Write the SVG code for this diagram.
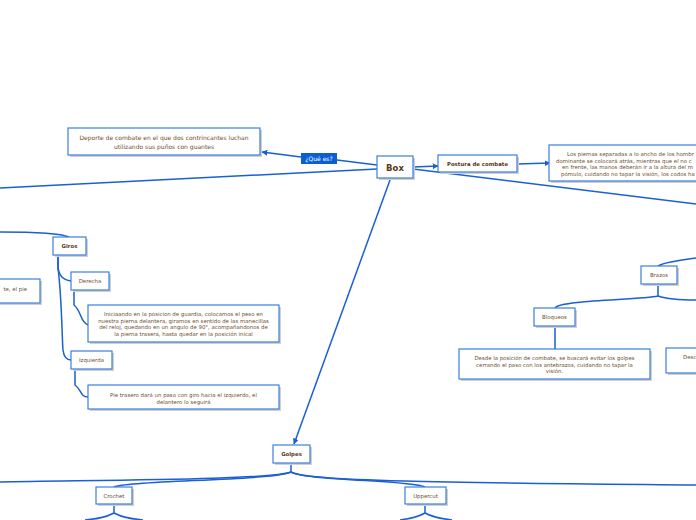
<svg xmlns="http://www.w3.org/2000/svg" width="696" height="520" viewBox="0 0 696 520">
<style>
.bx{fill:#fff;stroke:#3b7fe2;stroke-width:1.2}
.sh{fill:#d0d0d0}
.t{font-family:"DejaVu Sans",Verdana,sans-serif;font-size:5.4px;fill:#6e4e2c;text-anchor:middle}
.b{font-weight:bold;fill:#5a3814}
.c{fill:none;stroke:#1a5fd3;stroke-width:1.5}
</style>
<defs>
<marker id="ah" viewBox="0 0 10 10" refX="9" refY="5" markerWidth="6" markerHeight="6" orient="auto" markerUnits="userSpaceOnUse">
<path d="M0,0 L10,5 L0,10 z" fill="#1a5fd3"/>
</marker>
</defs>
<rect width="696" height="520" fill="#fff"/>
<g id="connectors">
<path class="c" d="M377,165 L337,160"/>
<path class="c" d="M301,157 L262,152" marker-end="url(#ah)"/>
<path class="c" d="M377,169 L0,188"/>
<path class="c" d="M413,167 L438,166" marker-end="url(#ah)"/>
<path class="c" d="M517,164 L550,163" marker-end="url(#ah)"/>
<path class="c" d="M413,169 L696,204"/>
<path class="c" d="M0,232 C30,232 60,233 69,237"/>
<path class="c" d="M58,255 L58,265 C58,275 63,280 71,281"/>
<path class="c" d="M58,255 L58,268 C62,300 62,340 63,350 C64,358 67,360 71,360"/>
<path class="c" d="M74,290 L74,305 C82,312 80,322 88,325"/>
<path class="c" d="M75,369 L75,385 C82,390 80,397 88,397"/>
<path class="c" d="M658,266 C665,262 680,260 696,258"/>
<path class="c" d="M658,284 L658,296 C640,300 560,300 555,308"/>
<path class="c" d="M658,296 C670,300 690,300 696,300"/>
<path class="c" d="M555,326 L555,349"/>
<path class="c" d="M390,180 L294,444" marker-end="url(#ah)"/>
<path class="c" d="M291,463 L291,472 C270,480 100,480 0,482"/>
<path class="c" d="M291,472 C300,482 500,483 696,485"/>
<path class="c" d="M291,472 C270,481 130,480 114,487"/>
<path class="c" d="M291,472 C310,481 410,480 425,487"/>
<path class="c" d="M114,503 L114,513 C105,518 95,519 85,520"/>
<path class="c" d="M114,513 C123,518 133,519 143,520"/>
<path class="c" d="M425,503 L425,513 C416,518 408,519 400,520"/>
<path class="c" d="M425,513 C434,518 444,519 452,520"/>
</g>
<g id="definicion">
<rect class="sh" x="70" y="130" width="192" height="27"/>
<rect class="bx" x="68" y="128" width="192" height="27"/>
<text class="t" x="164" y="139.5" style="font-size:6px">Deporte de combate en el que dos contrincantes luchan</text>
<text class="t" x="164" y="148.5" style="font-size:6px">utilizando sus puños con guantes</text>
</g>
<g id="que-es">
<rect x="301" y="153" width="36" height="11" fill="#0b5fd4"/>
<text class="t" x="319" y="160.8" style="fill:#fff;font-size:6px">¿Qué es?</text>
</g>
<g id="box">
<rect class="sh" x="379" y="158" width="36" height="22"/>
<rect class="bx" x="377" y="156" width="36" height="22"/>
<text class="t b" x="395" y="170.5" style="font-size:8.5px">Box</text>
</g>
<g id="postura">
<rect class="sh" x="440" y="157" width="79" height="17"/>
<rect class="bx" x="438" y="155" width="79" height="17"/>
<text class="t b" x="477.5" y="165.5">Postura de combate</text>
</g>
<g id="postura-texto">
<rect class="sh" x="551" y="147" width="160" height="36"/>
<rect class="bx" x="549" y="145" width="160" height="36"/>
<text class="t" x="567" y="156" style="text-anchor:start">Los piernas separadas a lo ancho de los hombr</text>
<text class="t" x="556" y="162.5" style="text-anchor:start">dominante se colocará atrás, mientras que el no c</text>
<text class="t" x="562" y="169" style="text-anchor:start">en frente, las manos deberán ir a la altura del m</text>
<text class="t" x="561" y="175.5" style="text-anchor:start">pómulo, cuidando no tapar la visión, los codos ha</text>
</g>
<g id="giros">
<rect class="sh" x="55" y="239" width="33" height="18"/>
<rect class="bx" x="53" y="237" width="33" height="18"/>
<text class="t b" x="69.5" y="248">Giros</text>
</g>
<g id="izq-parcial">
<rect class="sh" x="-10" y="281" width="52" height="24"/>
<rect class="bx" x="-12" y="279" width="52" height="24"/>
<text class="t" x="27" y="291" style="text-anchor:end">te, el pie</text>
</g>
<g id="derecha">
<rect class="sh" x="73" y="274" width="38" height="18"/>
<rect class="bx" x="71" y="272" width="38" height="18"/>
<text class="t" x="90" y="283">Derecha</text>
</g>
<g id="derecha-texto">
<rect class="sh" x="90" y="307" width="191" height="37"/>
<rect class="bx" x="88" y="305" width="191" height="37"/>
<text class="t" x="183.5" y="316">Iniciaando en la posicion de guardia, colocamos el peso en</text>
<text class="t" x="183.5" y="322.5">nuestra pierna delantera, giramos en sentido de las manecillas</text>
<text class="t" x="183.5" y="329">del reloj, quedando en un angulo de 90°, acompañandonos de</text>
<text class="t" x="183.5" y="335.5">la pierna trasera, hasta quedar en la posición inical</text>
</g>
<g id="izquierda">
<rect class="sh" x="73" y="353" width="41" height="18"/>
<rect class="bx" x="71" y="351" width="41" height="18"/>
<text class="t" x="91.5" y="362">Izquierda</text>
</g>
<g id="izquierda-texto">
<rect class="sh" x="90" y="387" width="191" height="24"/>
<rect class="bx" x="88" y="385" width="191" height="24"/>
<text class="t" x="183.5" y="397">Pie trasero dará un paso con giro hacia el izquierdo, el</text>
<text class="t" x="183.5" y="404">delantero lo seguirá</text>
</g>
<g id="brazos">
<rect class="sh" x="643" y="268" width="36" height="18"/>
<rect class="bx" x="641" y="266" width="36" height="18"/>
<text class="t" x="659" y="277">Brazos</text>
</g>
<g id="bloqueos">
<rect class="sh" x="536" y="310" width="41" height="18"/>
<rect class="bx" x="534" y="308" width="41" height="18"/>
<text class="t" x="554.5" y="319">Bloqueos</text>
</g>
<g id="bloqueos-texto">
<rect class="sh" x="461" y="351" width="191" height="30"/>
<rect class="bx" x="459" y="349" width="191" height="30"/>
<text class="t" x="554.5" y="360">Desde la posición de combate, se buscará evitar los golpes</text>
<text class="t" x="554.5" y="366.5">cerrando el paso con los antebrazos, cuidando no tapar la</text>
<text class="t" x="554.5" y="373">visión.</text>
</g>
<g id="desc-texto">
<rect class="sh" x="668" y="350" width="60" height="25"/>
<rect class="bx" x="666" y="348" width="60" height="25"/>
<text class="t" x="683" y="359" style="text-anchor:start">Desc</text>
</g>
<g id="golpes">
<rect class="sh" x="275" y="447" width="37" height="18"/>
<rect class="bx" x="273" y="445" width="37" height="18"/>
<text class="t b" x="291.5" y="456">Golpes</text>
</g>
<g id="crochet">
<rect class="sh" x="98" y="489" width="36" height="17"/>
<rect class="bx" x="96" y="487" width="36" height="17"/>
<text class="t" x="114" y="497.5">Crochet</text>
</g>
<g id="uppercut">
<rect class="sh" x="407" y="489" width="41" height="17"/>
<rect class="bx" x="405" y="487" width="41" height="17"/>
<text class="t" x="425.5" y="497.5">Uppercut</text>
</g>
</svg>
